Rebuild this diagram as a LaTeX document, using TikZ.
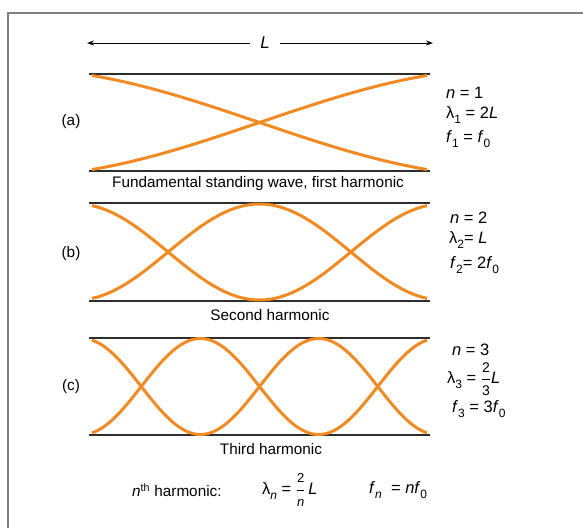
\documentclass[tikz,border=0pt]{standalone}
\usepackage{fontspec}
\setmainfont{Liberation Sans}
\usepackage{amsmath}
\usepackage{tikz}
\usetikzlibrary{arrows.meta,positioning,calc}
\definecolor{waveorange}{RGB}{242,138,36}
\definecolor{framegray}{RGB}{128,128,128}
\definecolor{stringgray}{RGB}{45,45,45}
\newcommand{\vi}[1]{\textit{#1}}
\newcommand{\lowsub}[1]{\raisebox{-0.3em}{\fontsize{12}{12}\selectfont #1}}

\begin{document}
\begin{tikzpicture}[x=1pt,y=-1pt,
  font=\fontsize{15.3}{17}\selectfont,
  string/.style={line width=1.6pt,stringgray},
  wave/.style={line width=3pt,waveorange},
  eqn/.style={anchor=west,inner sep=0pt,font=\fontsize{16.5}{18}\selectfont}]
  \useasboundingbox (0,0) rectangle (583,528);
  \draw[framegray,line width=2pt] (8,528) -- (8,13) -- (583,13); % frame
  \node[inner xsep=10pt,font=\fontsize{17}{17}\selectfont] (len) at (265,43) {\vi{L}};
  \coordinate (lenL) at (87,43);
  \coordinate (lenR) at (433,43);
  \draw[-{Stealth[length=7pt,width=5pt]},line width=0.9pt] (len) -- (lenL); % length L, left
  \draw[-{Stealth[length=7pt,width=5pt]},line width=0.9pt] (len) -- (lenR); % length L, right
  % (a) fundamental
  \draw[string] (89,74) -- (430,74);
  \draw[string] (89,171) -- (430,171);
  \draw[wave] plot[domain=30:150,samples=60] ({92+(\x-30)/120*335},{122.5+54.3*cos(\x)});
  \draw[wave] plot[domain=30:150,samples=60] ({92+(\x-30)/120*335},{122.5-54.3*cos(\x)});
  \node (laba) at (71,122) {(a)};
  \node (capa) at (258,184) {Fundamental standing wave, first harmonic};
  \node[eqn] (na) at (446,93) {\vi{n} = 1};
  \node[eqn] (lama) at (446,115) {λ\lowsub{1} = 2\vi{L}};
  \node[eqn] (fa) at (446,139) {\vi{f}\lowsub{1} = \vi{f}\lowsub{0}};
  % (b) second harmonic
  \draw[string] (89,203) -- (430,203);
  \draw[string] (89,301) -- (430,301);
  \draw[wave] plot[domain=15:345,samples=90] ({92+(\x-15)/330*335},{252-48*cos(\x)});
  \draw[wave] plot[domain=15:345,samples=90] ({92+(\x-15)/330*335},{252+48*cos(\x)});
  \node (labb) at (71,254) {(b)};
  \node (capb) at (270,315) {Second harmonic};
  \node[eqn] (nb) at (450,218) {\vi{n} =~2};
  \node[eqn] (lamb) at (449,240) {λ\lowsub{2}=~\vi{L}};
  \node[eqn] (fb) at (450,265) {\vi{f}\lowsub{2}= 2\vi{f}\lowsub{0}};
  % (c) third harmonic
  \draw[string] (89,338) -- (430,338);
  \draw[string] (89,435) -- (430,435);
  \draw[wave] plot[domain=15:525,samples=120] ({92+(\x-15)/510*335},{386.5-48*cos(\x)});
  \draw[wave] plot[domain=15:525,samples=120] ({92+(\x-15)/510*335},{386.5+48*cos(\x)});
  \node (labc) at (71,387) {(c)};
  \node (capc) at (271,449) {Third harmonic};
  \node[eqn] (nc) at (452,350) {\vi{n} =~3};
  \node[eqn] (lamc) at (447,379) {λ\lowsub{3} = $\dfrac{\text{\fontsize{14}{14}\selectfont 2}}{\text{\fontsize{14}{14}\selectfont 3}}$\vi{L}};
  \node[eqn] (fc) at (452,409) {\vi{f}\lowsub{3} = 3\vi{f}\lowsub{0}};
  % general rule
  \node[anchor=west,inner sep=0pt] (rule) at (132,490) {\vi{n}\textsuperscript{th} harmonic:};
  \node[eqn] (lamn) at (262,490) {λ\lowsub{\vi{n}} = $\dfrac{\text{\fontsize{13}{13}\selectfont 2}}{\text{\fontsize{13}{13}\selectfont\vi{n}}}$\,\vi{L}};
  \node[eqn] (fn) at (369,490) {\vi{f}\lowsub{\vi{n}}~~=~\vi{nf}\lowsub{0}};
\end{tikzpicture}
\end{document}
